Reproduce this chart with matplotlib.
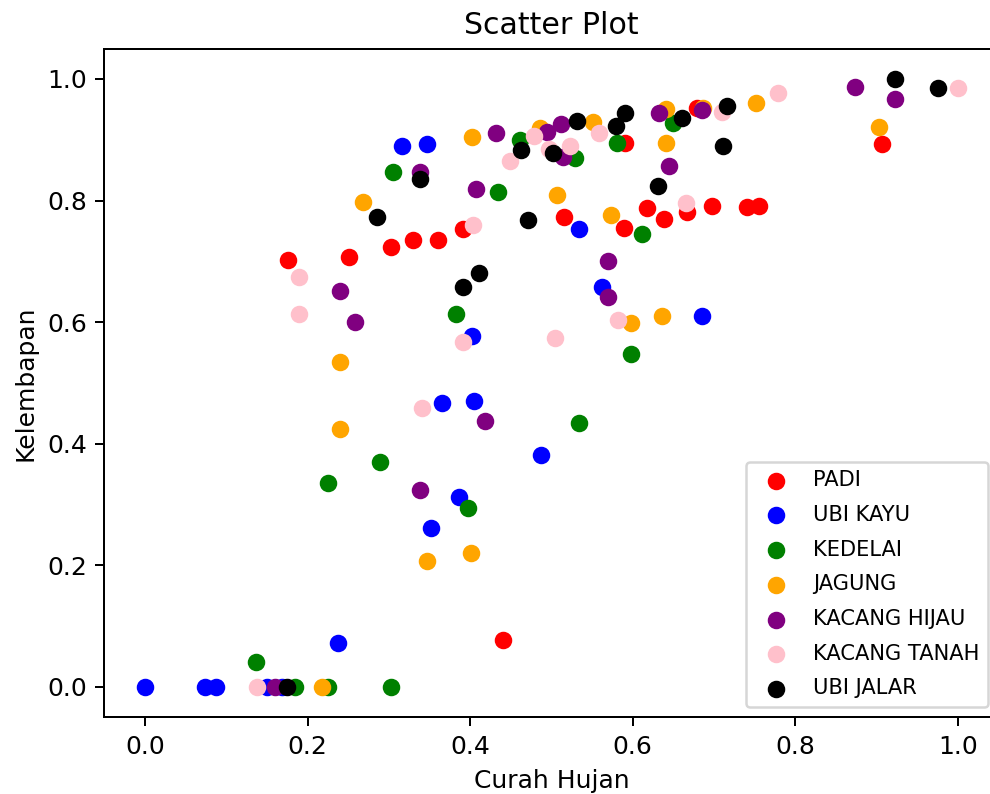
import matplotlib
matplotlib.use("Agg")
import matplotlib.pyplot as plt

# Data (Curah Hujan, Kelembapan) per crop
padi_x = [0.176, 0.251, 0.303, 0.330, 0.360, 0.391, 0.440, 0.515, 0.589, 0.590, 0.617, 0.638, 0.667, 0.679, 0.697, 0.740, 0.755, 0.907]
padi_y = [0.702, 0.707, 0.724, 0.735, 0.735, 0.753, 0.077, 0.773, 0.755, 0.895, 0.788, 0.770, 0.781, 0.952, 0.791, 0.789, 0.791, 0.893]

ubikayu_x = [0.000, 0.074, 0.087, 0.150, 0.168, 0.237, 0.316, 0.347, 0.352, 0.365, 0.386, 0.402, 0.405, 0.487, 0.534, 0.562, 0.685]
ubikayu_y = [0.000, 0.000, 0.000, 0.000, 0.000, 0.072, 0.890, 0.893, 0.262, 0.467, 0.312, 0.577, 0.470, 0.382, 0.753, 0.658, 0.610]

kedelai_x = [0.137, 0.185, 0.225, 0.225, 0.289, 0.303, 0.305, 0.383, 0.397, 0.434, 0.461, 0.529, 0.534, 0.581, 0.598, 0.611, 0.649]
kedelai_y = [0.041, 0.000, 0.000, 0.336, 0.370, 0.000, 0.847, 0.613, 0.294, 0.814, 0.900, 0.870, 0.434, 0.895, 0.548, 0.745, 0.928]

jagung_x = [0.218, 0.240, 0.240, 0.268, 0.347, 0.401, 0.402, 0.486, 0.507, 0.551, 0.573, 0.598, 0.636, 0.641, 0.641, 0.686, 0.752, 0.903]
jagung_y = [0.000, 0.535, 0.424, 0.798, 0.207, 0.220, 0.905, 0.919, 0.809, 0.929, 0.776, 0.599, 0.610, 0.951, 0.895, 0.952, 0.961, 0.921]

hijau_x = [0.160, 0.240, 0.258, 0.338, 0.338, 0.407, 0.418, 0.432, 0.494, 0.512, 0.514, 0.569, 0.569, 0.632, 0.645, 0.685, 0.873, 0.922]
hijau_y = [0.000, 0.651, 0.600, 0.847, 0.324, 0.819, 0.438, 0.911, 0.913, 0.926, 0.872, 0.701, 0.641, 0.944, 0.857, 0.949, 0.987, 0.967]

tanah_x = [0.138, 0.189, 0.189, 0.341, 0.391, 0.403, 0.449, 0.478, 0.497, 0.504, 0.523, 0.558, 0.582, 0.665, 0.710, 0.779, 1.000]
tanah_y = [0.000, 0.674, 0.613, 0.459, 0.567, 0.760, 0.865, 0.906, 0.885, 0.574, 0.890, 0.911, 0.604, 0.796, 0.946, 0.977, 0.985]

jalar_x = [0.175, 0.285, 0.338, 0.391, 0.411, 0.462, 0.471, 0.502, 0.531, 0.579, 0.590, 0.631, 0.661, 0.711, 0.716, 0.923, 0.975]
jalar_y = [0.000, 0.773, 0.836, 0.658, 0.681, 0.883, 0.768, 0.878, 0.931, 0.923, 0.944, 0.824, 0.936, 0.890, 0.956, 1.000, 0.985]

series = [
    ("PADI", padi_x, padi_y, "red"),
    ("UBI KAYU", ubikayu_x, ubikayu_y, "blue"),
    ("KEDELAI", kedelai_x, kedelai_y, "green"),
    ("JAGUNG", jagung_x, jagung_y, "orange"),
    ("KACANG HIJAU", hijau_x, hijau_y, "purple"),
    ("KACANG TANAH", tanah_x, tanah_y, "pink"),
    ("UBI JALAR", jalar_x, jalar_y, "black"),
]

W, H, DPI = 990, 794, 180
fig = plt.figure(figsize=(W / DPI, H / DPI), dpi=DPI)
left, right, top, bottom = 104.4, 998.6, 48.6, 717.4
ax = fig.add_axes([left / W, 1 - bottom / H, (right - left) / W, (bottom - top) / H])

for name, xs, ys, c in series:
    ax.scatter(xs, ys, color=c, label=name)

ax.set_xlim(-0.05, 1.05)
ax.set_ylim(-0.05, 1.05)
ax.set_title("Scatter Plot")
ax.set_xlabel("Curah Hujan")
ax.set_ylabel("Kelembapan")
ax.legend(loc="lower right", fontsize=8.4, labelspacing=0.7)

fig.savefig("out.png", dpi=DPI)
